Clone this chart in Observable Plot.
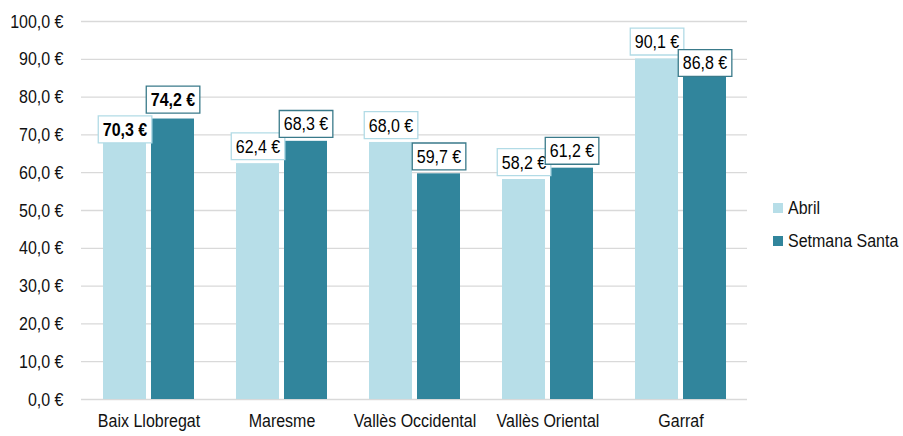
<!DOCTYPE html>
<html>
<head>
<meta charset="utf-8">
<script src="https://cdn.jsdelivr.net/npm/d3@7"></script>
<script src="https://cdn.jsdelivr.net/npm/@observablehq/plot@0.6"></script>
<style>
  html, body { margin: 0; padding: 0; background: #fff; }
  #wrap { position: relative; width: 903px; height: 436px; font-family: "Liberation Sans", Arial, sans-serif; }
  #legend { position: absolute; left: 773px; top: 191px; font-size: 16px; color: #111; white-space: nowrap; }
  .item { display: flex; align-items: center; height: 33px; }
  .sw { width: 10px; height: 10px; margin-right: 5px; }
  .item span { display: inline-block; transform: scale(1, 1.17); }
</style>
</head>
<body>
<div id="wrap"><div id="legend"></div></div>
<script>
const regions = ["Baix Llobregat", "Maresme", "Vallès Occidental", "Vallès Oriental", "Garraf"];
const series = ["Abril", "Setmana Santa"];
const abril = [70.3, 62.4, 68.0, 58.2, 90.1];
const setmanaSanta = [74.2, 68.3, 59.7, 61.2, 86.8];
const yTicks = [0, 10, 20, 30, 40, 50, 60, 70, 80, 90, 100];

const colors = ["#b7dee8", "#31859c"];
const boxStroke = ["#b2dbe6", "#3a7a8a"];
const fmt = v => v.toFixed(1).replace(".", ",") + " €";
const stretch = 1.17;

const data = regions.flatMap((r, i) => [
  {region: r, series: series[0], value: abril[i]},
  {region: r, series: series[1], value: setmanaSanta[i]}
]);

// label placement tweaks (as in the original chart)
const boldRegion = "Baix Llobregat";
const nudge = {"Baix Llobregat|Abril": -4, "Baix Llobregat|Setmana Santa": -19, "Garraf|Setmana Santa": -8};

const labelData = [...data.filter(d => d.series === series[0]), ...data.filter(d => d.series === series[1])];
const labelMarks = labelData.map(d => Plot.text([d], {
  x: "region", y: "value", text: d => fmt(d.value),
  dx: d.series === series[0] ? -24 : 24,
  dy: nudge[d.region + "|" + d.series] ?? -17,
  fontWeight: d.region === boldRegion ? "bold" : "normal",
  fill: "#000"
}));

const svg = Plot.plot({
  width: 903, height: 436,
  marginLeft: 81, marginRight: 156, marginTop: 21, marginBottom: 37,
  style: {fontSize: "16px", fontFamily: "'Liberation Sans', Arial, sans-serif", color: "#111", background: "#fff"},
  x: {domain: regions, paddingInner: 0.317, paddingOuter: 0.1585, tickSize: 0, tickPadding: 15, label: null},
  y: {domain: [0, 100], ticks: yTicks, tickFormat: fmt, tickSize: 0, tickPadding: 18, label: null},
  marks: [
    Plot.ruleY(yTicks, {stroke: "#d9d9d9", strokeWidth: 1.3}),
    Plot.barY(data.filter(d => d.series === series[0]), {x: "region", y: "value", fill: colors[0], insetRight: 48}),
    Plot.barY(data.filter(d => d.series === series[1]), {x: "region", y: "value", fill: colors[1], insetLeft: 48}),
    ...labelMarks
  ]
});
document.getElementById("wrap").insertBefore(svg, document.getElementById("legend"));

const NS = "http://www.w3.org/2000/svg";
// white boxes behind the value labels
const boxed = new Set();
svg.querySelectorAll('g[aria-label="text"]').forEach((g, i) => {
  const d = labelData[i];
  const k = series.indexOf(d.series);
  g.querySelectorAll("text").forEach(t => {
    const b = t.getBBox();
    const r = document.createElementNS(NS, "rect");
    r.setAttribute("x", b.x - 4.5);
    r.setAttribute("y", b.y - 3);
    r.setAttribute("width", b.width + 9);
    r.setAttribute("height", b.height + 6);
    r.setAttribute("fill", "#fff");
    r.setAttribute("stroke", boxStroke[k]);
    r.setAttribute("stroke-width", 1.3);
    r.setAttribute("vector-effect", "non-scaling-stroke");
    t.parentNode.insertBefore(r, t);
    boxed.add(t);
    const cy = b.y + b.height / 2;
    const base = t.getAttribute("transform") || "";
    const tr = `${base} translate(0,${cy}) scale(1,${stretch}) translate(0,${-cy})`;
    t.setAttribute("transform", tr);
    r.setAttribute("transform", tr);
  });
});
// vertically stretch all other texts (narrow-looking type as in the original)
svg.querySelectorAll("text").forEach(t => {
  if (boxed.has(t)) return;
  const b = t.getBBox();
  const cy = b.y + b.height / 2;
  const base = t.getAttribute("transform") || "";
  t.setAttribute("transform", `${base} translate(0,${cy}) scale(1,${stretch}) translate(0,${-cy})`);
});

// legend
const legend = document.getElementById("legend");
series.forEach((s, i) => {
  const item = document.createElement("div");
  item.className = "item";
  const sw = document.createElement("div");
  sw.className = "sw";
  sw.style.background = colors[i];
  const lab = document.createElement("span");
  lab.textContent = s;
  item.appendChild(sw); item.appendChild(lab);
  legend.appendChild(item);
});
</script>
</body>
</html>
